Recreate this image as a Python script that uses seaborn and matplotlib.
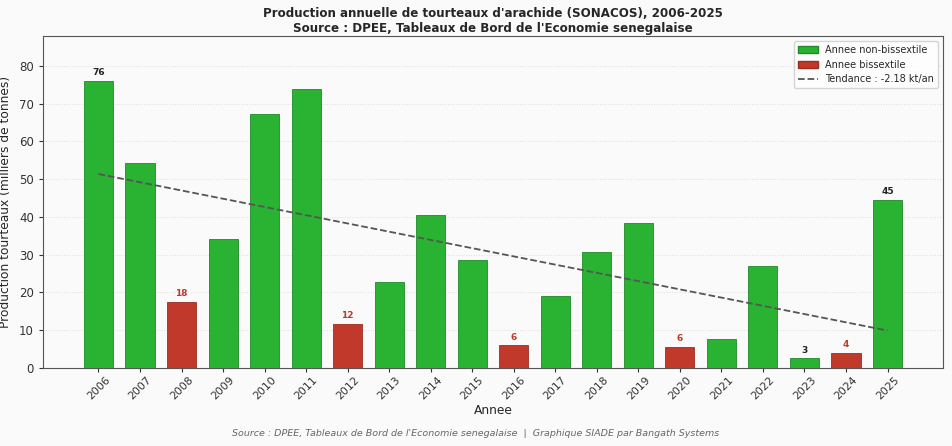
import numpy as np
import pandas as pd
import matplotlib
matplotlib.use("Agg")
import matplotlib.pyplot as plt
import seaborn as sns
from matplotlib.patches import Patch
from matplotlib.lines import Line2D

years = list(range(2006, 2026))
values = [76.1, 54.3, 17.5, 34.2, 67.3, 73.9, 11.7, 22.8, 40.5, 28.6,
          6.1, 19.1, 30.7, 38.4, 5.6, 7.7, 27.0, 2.6, 4.0, 44.6]
type_labels = ["Annee non-bissextile", "Annee bissextile"]
green = "#2ab233"
red = "#c0392b"

def is_leap(y):
    return (y % 4 == 0 and y % 100 != 0) or y % 400 == 0

df = pd.DataFrame({
    "Annee": [str(y) for y in years],
    "val": values,
    "type": [type_labels[1] if is_leap(y) else type_labels[0] for y in years],
})

sns.set_style("white")
plt.rcParams['font.family'] = ['DejaVu Sans']

fig = plt.figure(figsize=(9.52, 4.46), dpi=100, facecolor="#fafafa")
ax = fig.add_axes([43/952, 1-368/446, 900/952, 332/446])
ax.set_facecolor("#fafafa")

sns.barplot(data=df, x="Annee", y="val", hue="type", dodge=False, width=0.7,
            palette={type_labels[0]: green, type_labels[1]: red}, saturation=1,
            hue_order=type_labels, ax=ax, legend=False, zorder=3)
for bar in ax.patches:
    fc = bar.get_facecolor()
    bar.set_edgecolor("#1f8a27" if fc[1] > 0.5 else "#9a2e22")
    bar.set_linewidth(0.6)

x = np.arange(len(years))
coef = np.polyfit(np.array(years, dtype=float), np.array(values), 1)
trend = np.polyval(coef, np.array(years, dtype=float))
ax.plot(x, trend, linestyle="--", color="#555555", linewidth=1.3, zorder=4)

imax = int(np.argmax(values))
imin = int(np.argmin(values))
for i, (y, v) in enumerate(zip(years, values)):
    if is_leap(y):
        ax.text(i, v + 0.9, f"{v:.0f}", ha="center", va="bottom", fontsize=6.5,
                fontweight="bold", color=red, zorder=5)
    elif i in (imax, imin, len(years) - 1):
        ax.text(i, v + 0.9, f"{v:.0f}", ha="center", va="bottom", fontsize=6.5,
                fontweight="bold", color="#222222", zorder=5)

ax.set_ylim(0, max(values) * 1.155)
ax.set_yticks(np.arange(0, 81, 10))
ax.yaxis.grid(True, linestyle=":", color="#dddddd", linewidth=0.7, zorder=0)
ax.set_axisbelow(True)
ax.tick_params(axis="x", rotation=45, labelsize=7.8, length=3, colors="#333333", pad=2)
ax.tick_params(axis="y", labelsize=8.5, length=3, colors="#333333")
ax.tick_params(axis="both", bottom=True, left=True)
for s in ax.spines.values():
    s.set_color("#555555")
    s.set_linewidth(0.8)

ax.set_xlabel("Annee", fontsize=8.8, labelpad=2)
ax.set_ylabel("Production tourteaux (milliers de tonnes)", fontsize=8.8, labelpad=5)
ax.set_title("Production annuelle de tourteaux d'arachide (SONACOS), 2006-2025\n"
             "Source : DPEE, Tableaux de Bord de l'Economie senegalaise",
             fontsize=8.6, fontweight="bold", pad=3)

handles = [Patch(facecolor=green, edgecolor="#1f8a27", label=type_labels[0]),
           Patch(facecolor=red, edgecolor="#9a2e22", label=type_labels[1]),
           Line2D([0], [0], color="#555555", linestyle="--", linewidth=1.3,
                  label=f"Tendance : {coef[0]:.2f} kt/an")]
ax.legend(handles=handles, loc="upper right", fontsize=7, frameon=True,
          facecolor="white", edgecolor="#cccccc")

fig.text(0.5, 1-433/446, "Source : DPEE, Tableaux de Bord de l'Economie senegalaise  |  "
         "Graphique SIADE par Bangath Systems", ha="center", va="center",
         fontsize=6.8, style="italic", color="#666666")

fig.savefig("out.png", dpi=100, facecolor=fig.get_facecolor())
